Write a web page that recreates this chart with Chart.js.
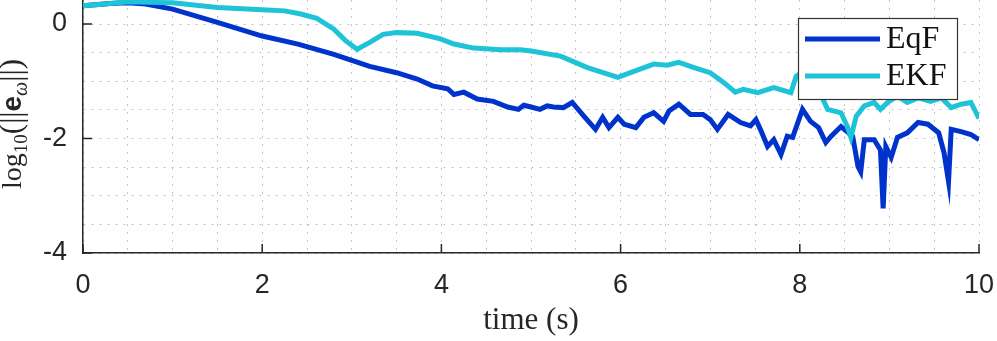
<!DOCTYPE html>
<html lang="en">
<head>
    <meta charset="UTF-8">
    <title>EqF vs EKF</title>
    <script src="https://cdn.jsdelivr.net/npm/chart.js"></script>
    <style>
        html, body { margin: 0; padding: 0; background: #fff; }
        #wrap { width: 997px; height: 341px; }
    </style>
</head>
<body>
    <div id="wrap"><canvas id="chart"></canvas></div>

    <script>
        // values
        const eqfTime = [0, 0.3, 0.5, 0.7, 1.0, 1.5, 2.0, 2.4, 2.8, 3.2, 3.5, 3.73, 3.9, 4.07, 4.14, 4.25, 4.4, 4.58, 4.74, 4.86, 4.92,
            5.0, 5.1, 5.18, 5.25, 5.36, 5.46, 5.59, 5.72, 5.8, 5.87, 5.97, 6.04, 6.17, 6.26, 6.37, 6.48, 6.54, 6.65, 6.78, 6.92,
            7.0, 7.08, 7.2, 7.34, 7.45, 7.51, 7.56, 7.64, 7.71, 7.79, 7.86, 7.92, 8.03, 8.12, 8.21, 8.29, 8.35, 8.46, 8.59, 8.65,
            8.68, 8.72, 8.83, 8.9, 8.93, 8.96, 9.02, 9.09, 9.2, 9.32, 9.43, 9.55, 9.61, 9.66, 9.69, 9.8, 9.91, 10.0];
        const eqfValues = [0.32, 0.36, 0.37, 0.35, 0.26, 0.03, -0.21, -0.35, -0.53, -0.74, -0.85, -0.96, -1.08, -1.13, -1.23, -1.19, -1.31, -1.35, -1.45, -1.49, -1.42,
            -1.45, -1.49, -1.43, -1.45, -1.46, -1.37, -1.61, -1.84, -1.63, -1.81, -1.63, -1.75, -1.81, -1.63, -1.55, -1.7, -1.52, -1.4, -1.58, -1.58,
            -1.67, -1.84, -1.58, -1.72, -1.78, -1.67, -1.84, -2.14, -2.02, -2.28, -1.96, -1.98, -1.49, -1.7, -1.81, -2.07, -1.96, -1.79, -1.96, -2.49,
            -2.58, -2.02, -2.02, -2.2, -3.22, -2.14, -2.33, -1.98, -1.9, -1.72, -1.75, -1.9, -2.25, -2.75, -1.84, -1.88, -1.93, -2.02];

        const ekfTime = [0, 0.25, 0.5, 1.0, 1.5, 2.0, 2.25, 2.42, 2.61, 2.8, 2.93, 3.06, 3.2, 3.35, 3.5, 3.73, 3.99, 4.14, 4.36, 4.66, 4.88,
            5.0, 5.33, 5.63, 5.97, 6.11, 6.37, 6.52, 6.65, 6.82, 7.0, 7.15, 7.28, 7.37, 7.53, 7.71, 7.9, 7.96, 8.05, 8.2,
            8.26, 8.31, 8.46, 8.53, 8.57, 8.63, 8.72, 8.83, 8.9, 8.98, 9.09, 9.2, 9.32, 9.46, 9.58, 9.69, 9.8, 9.91, 10.0];
        const ekfValues = [0.32, 0.35, 0.39, 0.37, 0.29, 0.25, 0.23, 0.18, 0.1, -0.09, -0.29, -0.44, -0.32, -0.18, -0.15, -0.16, -0.26, -0.35, -0.42, -0.45, -0.45,
            -0.47, -0.56, -0.76, -0.93, -0.85, -0.7, -0.72, -0.67, -0.76, -0.85, -1.02, -1.19, -1.14, -1.2, -1.11, -1.2, -0.91, -0.82, -0.9,
            -1.32, -1.49, -1.55, -1.79, -1.98, -1.61, -1.43, -1.37, -1.49, -1.37, -1.26, -1.37, -1.29, -1.35, -1.29, -1.46, -1.4, -1.37, -1.65];

        const xTicks = [0, 2, 4, 6, 8, 10];
        const yTicks = [0, -2, -4];

        const toPoints = (ts, vs) => ts.map((t, i) => ({ x: t, y: vs[i] }));

        const axisColor = "#262626";
        const gridColor = "#c4c4c4";
        const tickFont = { family: "Liberation Sans", size: 27 };

        // inward tick marks at the labelled values
        const tickMarks = {
            id: "tickMarks",
            afterDatasetsDraw(chart) {
                const { ctx, chartArea, scales } = chart;
                ctx.save();
                ctx.strokeStyle = axisColor;
                ctx.lineWidth = 1.5;
                ctx.beginPath();
                xTicks.forEach(v => {
                    const px = scales.x.getPixelForValue(v);
                    ctx.moveTo(px, chartArea.bottom);
                    ctx.lineTo(px, chartArea.bottom - 9);
                });
                yTicks.forEach(v => {
                    const py = scales.y.getPixelForValue(v);
                    ctx.moveTo(chartArea.left, py);
                    ctx.lineTo(chartArea.left + 9, py);
                });
                ctx.stroke();
                ctx.restore();
            }
        };

        // y label with subscripts: log10(||e_w||)
        const yLabel = {
            id: "yLabel",
            afterDraw(chart) {
                const ctx = chart.ctx;
                const serif = "px 'Liberation Serif'";
                const parts = [
                    { t: "log", font: "28" + serif, dy: 0 },
                    { t: "10", font: "19" + serif, dy: 6 },
                    { t: "(", font: "31" + serif, dy: 0 },
                    { t: "||", font: "31" + serif, dy: 0 },
                    { t: "e", font: "bold 28px 'Liberation Sans'", dy: 0 },
                    { t: "\u03c9", font: "italic 20" + serif, dy: 6 },
                    { t: "||", font: "31" + serif, dy: 0 },
                    { t: ")", font: "31" + serif, dy: 0 }
                ];
                ctx.save();
                let total = 0;
                parts.forEach(p => { ctx.font = p.font; p.w = ctx.measureText(p.t).width; total += p.w; });
                ctx.translate(21, 124);
                ctx.rotate(-Math.PI / 2);
                ctx.fillStyle = axisColor;
                ctx.textBaseline = "alphabetic";
                let x = -total / 2;
                parts.forEach(p => {
                    ctx.font = p.font;
                    ctx.fillText(p.t, x, p.dy);
                    x += p.w;
                });
                ctx.restore();
            }
        };

        // boxed legend in the upper right
        const boxLegend = {
            id: "boxLegend",
            afterDraw(chart) {
                const ctx = chart.ctx;
                ctx.save();
                ctx.fillStyle = "#fff";
                ctx.fillRect(798, 18, 159, 81);
                ctx.strokeStyle = "#333";
                ctx.lineWidth = 1.2;
                ctx.strokeRect(798.5, 18.5, 159, 81);
                const rows = [39, 76];
                chart.data.datasets.forEach((ds, i) => {
                    ctx.strokeStyle = ds.borderColor;
                    ctx.lineWidth = 5;
                    ctx.beginPath();
                    ctx.moveTo(805, rows[i]);
                    ctx.lineTo(880, rows[i]);
                    ctx.stroke();
                    ctx.fillStyle = "#111";
                    ctx.font = "32px 'Liberation Serif'";
                    ctx.textBaseline = "middle";
                    ctx.fillText(ds.label, 886, rows[i] + 1);
                });
                ctx.restore();
            }
        };

        new Chart(document.getElementById("chart"), {
            type: "line",
            data: {
                datasets: [{
                    label: "EqF",
                    data: toPoints(eqfTime, eqfValues),
                    borderColor: "#0033cc",
                    borderWidth: 5,
                    pointRadius: 0,
                    tension: 0,
                    order: 1
                }, {
                    label: "EKF",
                    data: toPoints(ekfTime, ekfValues),
                    borderColor: "#1ec3d8",
                    borderWidth: 5,
                    pointRadius: 0,
                    tension: 0,
                    order: 0
                }]
            },
            options: {
                responsive: true,
                maintainAspectRatio: false,
                animation: false,
                layout: { padding: { top: 0, right: 18, bottom: 0, left: 0 } },
                plugins: {
                    legend: { display: false },
                    tooltip: { enabled: false }
                },
                scales: {
                    x: {
                        type: "linear",
                        min: 0,
                        max: 10,
                        afterFit: s => { s.height = 88; s.paddingLeft = 0; s.paddingRight = 0; },
                        ticks: {
                            stepSize: 0.5,
                            autoSkip: false,
                            includeBounds: false,
                            maxRotation: 0,
                            padding: 16,
                            color: axisColor,
                            font: tickFont,
                            callback: v => (xTicks.includes(v) ? String(v) : "")
                        },
                        grid: { color: gridColor, lineWidth: 1, drawTicks: false },
                        border: { display: true, color: axisColor, width: 1.5, dash: [2, 6] },
                        title: {
                            display: true,
                            text: "time (s)",
                            color: axisColor,
                            font: { family: "Liberation Serif", size: 31 },
                            padding: { top: 0, bottom: 2 }
                        }
                    },
                    y: {
                        min: -4,
                        max: 0.42,
                        afterFit: s => { s.width = 83; s.paddingTop = 0; s.paddingBottom = 0; },
                        ticks: {
                            stepSize: 0.5,
                            autoSkip: false,
                            includeBounds: false,
                            padding: 16,
                            color: axisColor,
                            font: tickFont,
                            callback: v => (yTicks.includes(v) ? String(v) : "")
                        },
                        grid: { color: gridColor, lineWidth: 1, drawTicks: false },
                        border: { display: true, color: axisColor, width: 1.5, dash: [2, 6] }
                    }
                }
            },
            plugins: [tickMarks, yLabel, boxLegend]
        });
    </script>
</body>
</html>
